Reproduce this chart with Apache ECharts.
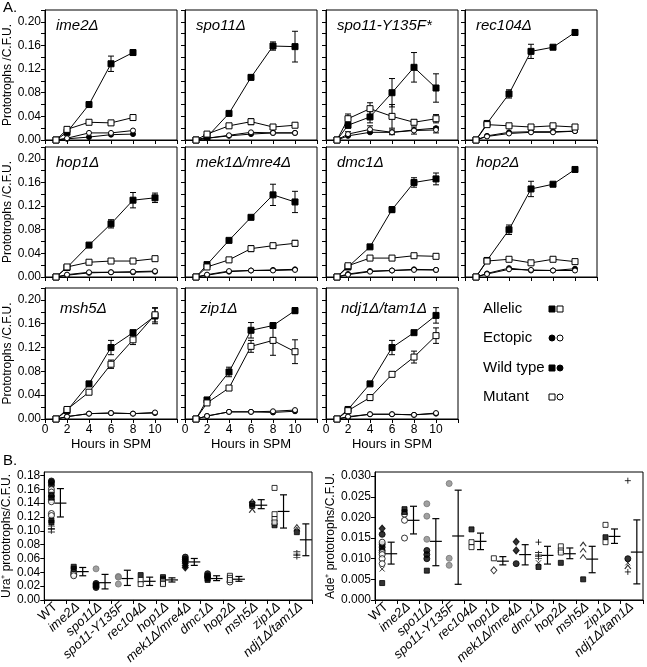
<!DOCTYPE html>
<html><head><meta charset="utf-8">
<script src="https://cdn.jsdelivr.net/npm/echarts@6/dist/echarts.min.js"></script>
<style>html,body{margin:0;padding:0;background:#fff}#c{width:647px;height:667px}</style>
</head><body><div id="c"></div>
<script>
// ---------- Panel A data ----------
const hours = [1, 2, 4, 6, 8, 10];
const panelNames = ['ime2Δ', 'spo11Δ', 'spo11-Y135F*', 'rec104Δ', 'hop1Δ', 'mek1Δ/mre4Δ', 'dmc1Δ', 'hop2Δ', 'msh5Δ', 'zip1Δ', 'ndj1Δ/tam1Δ'];
const allelicWT = [
  [0, 0.013, 0.060, 0.129, 0.148, null],
  [0, 0.005, 0.045, 0.106, 0.159, 0.158],
  [0, 0.025, 0.039, 0.080, 0.123, 0.088],
  [0, 0.028, 0.078, 0.150, 0.157, 0.182],
  [0, 0.016, 0.054, 0.090, 0.130, 0.134],
  [0, 0.021, 0.062, 0.101, 0.139, 0.127],
  [0, 0.017, 0.051, 0.114, 0.160, 0.166],
  [0, 0.028, 0.080, 0.149, 0.157, 0.182],
  [0, 0.014, 0.059, 0.120, 0.145, 0.173],
  [0, 0.032, 0.079, 0.149, 0.157, 0.182],
  [0, 0.016, 0.059, 0.120, 0.145, 0.174]
];
const allelicWTErr = [
  [0, 0.002, 0.002, 0.013, 0.005, null],
  [0, 0.000, 0.002, 0.004, 0.007, 0.026],
  [0, 0.005, 0.010, 0.024, 0.025, 0.024],
  [0, 0.002, 0.007, 0.012, 0.003, 0.005],
  [0, 0.002, 0.003, 0.007, 0.013, 0.008],
  [0, 0.002, 0.003, 0.003, 0.018, 0.018],
  [0, 0.002, 0.002, 0.005, 0.008, 0.010],
  [0, 0.002, 0.008, 0.013, 0.003, 0.004],
  [0, 0.002, 0.002, 0.012, 0.004, 0.013],
  [0, 0.002, 0.008, 0.013, 0.003, 0.005],
  [0, 0.002, 0.002, 0.012, 0.003, 0.013]
];
const allelicMut = [
  [0, 0.018, 0.030, 0.029, 0.038, null],
  [0, 0.010, 0.024, 0.031, 0.022, 0.025],
  [0, 0.036, 0.053, 0.040, 0.030, 0.036],
  [0, 0.026, 0.024, 0.022, 0.024, 0.022],
  [0, 0.017, 0.025, 0.027, 0.027, 0.031],
  [0, 0.017, 0.029, 0.048, 0.053, 0.057],
  [0, 0.019, 0.032, 0.032, 0.036, 0.035],
  [0, 0.027, 0.030, 0.024, 0.030, 0.026],
  [0, 0.016, 0.045, 0.092, 0.133, 0.175],
  [0, 0.027, 0.052, 0.122, 0.132, 0.113],
  [0, 0.014, 0.036, 0.075, 0.104, 0.140]
];
const allelicMutErr = [
  [0, 0.002, 0.002, 0.002, 0.004, null],
  [0, 0.001, 0.002, 0.005, 0.002, 0.002],
  [0, 0.008, 0.010, 0.020, 0.004, 0.007],
  [0, 0.002, 0.002, 0.002, 0.002, 0.002],
  [0, 0.002, 0.002, 0.002, 0.002, 0.002],
  [0, 0.002, 0.002, 0.005, 0.004, 0.005],
  [0, 0.002, 0.002, 0.002, 0.002, 0.002],
  [0, 0.002, 0.002, 0.002, 0.002, 0.002],
  [0, 0.002, 0.002, 0.007, 0.008, 0.012],
  [0, 0.002, 0.002, 0.010, 0.025, 0.020],
  [0, 0.002, 0.005, 0.003, 0.010, 0.013]
];
const ectopicWT = [
  [0, 0.002, 0.005, 0.009, 0.010, null],
  [0, 0.003, 0.007, 0.010, 0.012, 0.012],
  [0, 0.007, 0.013, 0.013, 0.017, 0.020],
  [0, 0.007, 0.013, 0.014, 0.014, 0.015],
  [0, 0.003, 0.007, 0.008, 0.008, 0.009],
  [0, 0.003, 0.009, 0.011, 0.012, 0.013],
  [0, 0.005, 0.010, 0.011, 0.013, 0.012],
  [0, 0.006, 0.015, 0.011, 0.011, 0.014],
  [0, 0.004, 0.009, 0.010, 0.009, 0.010],
  [0, 0.005, 0.012, 0.012, 0.011, 0.013],
  [0, 0.003, 0.008, 0.008, 0.007, 0.009]
];
const ectopicMut = [
  [0, 0.003, 0.012, 0.012, 0.016, null],
  [0, 0.003, 0.008, 0.013, 0.012, 0.012],
  [0, 0.010, 0.018, 0.013, 0.016, 0.017],
  [0, 0.006, 0.011, 0.013, 0.013, 0.015],
  [0, 0.004, 0.008, 0.008, 0.009, 0.010],
  [0, 0.004, 0.010, 0.011, 0.011, 0.012],
  [0, 0.004, 0.009, 0.011, 0.012, 0.012],
  [0, 0.005, 0.013, 0.012, 0.011, 0.011],
  [0, 0.004, 0.009, 0.010, 0.009, 0.011],
  [0, 0.005, 0.012, 0.012, 0.013, 0.015],
  [0, 0.004, 0.008, 0.008, 0.007, 0.010]
];
const ectopicErr = [
  [0,0,0,0,0,null],[0,0,0,0,0,0],[0, 0.004, 0.006, 0.004, 0.006, 0.005],[0,0,0,0,0,0],
  [0,0,0,0,0,0],[0,0,0,0,0,0],[0,0,0,0,0,0],[0,0,0,0,0,0],[0,0,0,0,0,0],[0,0,0,0,0,0],[0,0,0,0,0,0]
];
const yTicksA = [0, 0.04, 0.08, 0.12, 0.16, 0.20];
const xTicksA = [0, 2, 4, 6, 8, 10];

// ---------- Panel B data ----------
const cats = ['WT', 'ime2Δ', 'spo11Δ', 'spo11-Y135F', 'rec104Δ', 'hop1Δ', 'mek1Δ/mre4Δ', 'dmc1Δ', 'hop2Δ', 'msh5Δ', 'zip1Δ', 'ndj1Δ/tam1Δ'];
// Ura+ (left)
const uraFilledCircle = [[0,0.172],[0,0.170],[0,0.166],[2,0.024],[2,0.022],[2,0.020],[2,0.018],[6,0.062],[6,0.059],[6,0.056],[7,0.038],[7,0.035],[7,0.033]];
const uraOpenCircle = [[0,0.160],[0,0.156],[0,0.150],[0,0.145],[0,0.142],[0,0.125],[0,0.122],[1,0.040],[1,0.037],[1,0.035],[8,0.026]];
const uraFilledSquare = [[0,0.152],[0,0.148],[0,0.115],[0,0.112],[1,0.048],[1,0.045],[4,0.036],[5,0.033],[5,0.030],[7,0.031],[7,0.029],[9,0.139],[9,0.136],[10,0.108],[11,0.098]];
const uraOpenSquare = [[4,0.029],[4,0.023],[5,0.027],[5,0.025],[5,0.023],[8,0.035],[8,0.032],[8,0.029],[10,0.162],[10,0.124],[10,0.117],[10,0.112]];
const uraGrey = [[2,0.045],[3,0.034],[3,0.033],[3,0.023]];
const uraDiamond = [[6,0.053],[6,0.050],[6,0.047]];
const uraCaret = [[9,0.143],[9,0.129],[11,0.106],[11,0.102]];
const uraDagger = [[0,0.105],[0,0.100],[11,0.068],[11,0.063]];
const uraMean = [0.140, 0.041, 0.025, 0.031, 0.027, 0.029, 0.055, 0.031, 0.030, 0.137, 0.128, 0.087];
const uraLow  = [0.120, 0.035, 0.016, 0.021, 0.021, 0.026, 0.050, 0.028, 0.027, 0.132, 0.104, 0.064];
const uraHigh = [0.161, 0.047, 0.037, 0.043, 0.033, 0.032, 0.060, 0.035, 0.034, 0.145, 0.152, 0.110];
// Ade+ (right)
const adeFilledCircle = [[0,0.0159],[0,0.0135],[0,0.0128],[0,0.0120],[2,0.0120],[2,0.0110],[2,0.0100],[6,0.0088],[11,0.0100]];
const adeOpenCircle = [[0,0.0140],[0,0.0115],[0,0.0110],[0,0.0100],[0,0.0088],[1,0.0208],[1,0.0193],[1,0.0150]];
const adeFilledSquare = [[0,0.0041],[1,0.0220],[1,0.0213],[2,0.0071],[4,0.0171],[7,0.0080],[8,0.0090],[9,0.0050],[10,0.0152]];
const adeOpenSquare = [[4,0.0140],[4,0.0128],[5,0.0101],[8,0.0130],[8,0.0120],[8,0.0115],[10,0.0182],[10,0.0140]];
const adeGrey = [[2,0.0233],[2,0.0203],[2,0.0147],[3,0.0282],[3,0.0101],[3,0.0084]];
const adeDiamond = [[0,0.0173],[6,0.0141],[6,0.0120]];
const adeOpenDiamond = [[5,0.0072]];
const adePlus = [[7,0.0140],[11,0.0289],[11,0.0068]];
const adeDagger = [[7,0.0112],[7,0.0103]];
const adeCross = [[0,0.0075],[7,0.0090],[11,0.0090]];
const adeCaret = [[9,0.0135],[9,0.0120],[9,0.0105],[11,0.0080]];
const adeMean = [0.0112, 0.0193, 0.0142, 0.0155, 0.0142, 0.0094, 0.0110, 0.0108, 0.0112, 0.0099, 0.0154, 0.0116];
const adeLow  = [0.0087, 0.0160, 0.0083, 0.0038, 0.0122, 0.0085, 0.0085, 0.0087, 0.0100, 0.0066, 0.0137, 0.0039];
const adeHigh = [0.0140, 0.0227, 0.0197, 0.0266, 0.0162, 0.0105, 0.0134, 0.0130, 0.0126, 0.0130, 0.0172, 0.0194];

// ---------- layout / styles ----------
const FONT = '"Liberation Sans", Arial, sans-serif';
const rowTop = [10, 147, 288];
const rowH = [130, 130, 131];
const colLeft = [45, 185, 326, 465];
const panelW = 132;

const grids = [], xAxes = [], yAxes = [], series = [], titles = [];
const axisLineStyle = { show: true, lineStyle: { color: '#000', width: 1 } };

function errRender(params, api) {
  const x = api.value(0), lo = api.value(1), hi = api.value(2);
  const p1 = api.coord([x, lo]), p2 = api.coord([x, hi]);
  const w = 3, st = { stroke: '#000', lineWidth: 1 };
  return { type: 'group', children: [
    { type: 'line', shape: { x1: p1[0], y1: p1[1], x2: p2[0], y2: p2[1] }, style: st },
    { type: 'line', shape: { x1: p1[0] - w, y1: p1[1], x2: p1[0] + w, y2: p1[1] }, style: st },
    { type: 'line', shape: { x1: p2[0] - w, y1: p2[1], x2: p2[0] + w, y2: p2[1] }, style: st }
  ]};
}
function meanRender(params, api) {
  const c = api.value(0), m = api.value(1), lo = api.value(2), hi = api.value(3);
  const off = 5;
  const pm = api.coord([c, m]), pl = api.coord([c, lo]), ph = api.coord([c, hi]);
  const x = pm[0] + off, st = { stroke: '#000', lineWidth: 1.2 };
  return { type: 'group', children: [
    { type: 'line', shape: { x1: x, y1: pl[1], x2: x, y2: ph[1] }, style: st },
    { type: 'line', shape: { x1: x - 3.5, y1: pl[1], x2: x + 3.5, y2: pl[1] }, style: st },
    { type: 'line', shape: { x1: x - 3.5, y1: ph[1], x2: x + 3.5, y2: ph[1] }, style: st },
    { type: 'line', shape: { x1: x - 6, y1: pm[1], x2: x + 6, y2: pm[1] }, style: st }
  ]};
}

panelNames.forEach((name, i) => {
  const row = Math.floor(i / 4), col = i % 4;
  grids.push({ left: colLeft[col], top: rowTop[row], width: panelW, height: rowH[row], show: true, borderColor: '#000', borderWidth: 1, backgroundColor: 'transparent' });
  const bottomRow = row === 2;
  xAxes.push({
    type: 'value', gridIndex: i, min: 0, max: 12, interval: 2,
    axisLine: axisLineStyle, splitLine: { show: false },
    axisTick: { show: true, inside: false, length: 4, lineStyle: { color: '#000' } },
    axisLabel: { show: bottomRow, color: '#000', fontFamily: FONT, fontSize: 12, margin: 5,
      formatter: v => xTicksA.includes(v) ? String(v) : '' },
    name: bottomRow ? 'Hours in SPM' : '', nameLocation: 'middle', nameGap: 19,
    nameTextStyle: { color: '#000', fontFamily: FONT, fontSize: 13 }
  });
  yAxes.push({
    type: 'value', gridIndex: i, min: 0, max: 0.22, interval: 0.02,
    axisLine: axisLineStyle, splitLine: { show: false },
    axisTick: { show: true, inside: false, length: 4, lineStyle: { color: '#000' } },
    axisLabel: { show: col === 0, color: '#000', fontFamily: FONT, fontSize: 12, margin: 4,
      formatter: v => yTicksA.some(t => Math.abs(t - v) < 1e-6) ? v.toFixed(2) : '' },
    name: col === 0 ? 'Prototrophs /C.F.U.' : '', nameLocation: 'middle', nameGap: 28, nameRotate: 90,
    nameTextStyle: { color: '#000', fontFamily: FONT, fontSize: 12 }
  });
  titles.push({ text: name, left: colLeft[col] + (row === 2 ? 10 : 6), top: rowTop[row] + (row === 2 ? 8 : 3),
    textStyle: { fontFamily: FONT, fontSize: 15, fontStyle: 'italic', fontWeight: 'normal', color: '#000' } });

  const pts = arr => hours.map((h, k) => [h, arr[k]]).filter(p => p[1] !== null);
  const errs = (arr, err) => hours.map((h, k) => [h, arr[k], err[k]])
    .filter(p => p[1] !== null && p[2] > 0).map(p => [p[0], p[1] - p[2], p[1] + p[2]]);

  [[allelicWT[i], allelicWTErr[i]], [allelicMut[i], allelicMutErr[i]], [ectopicMut[i], ectopicErr[i]]].forEach(([a, e]) => {
    series.push({ type: 'custom', xAxisIndex: i, yAxisIndex: i, renderItem: errRender, data: errs(a, e), z: 1, silent: true });
  });
  const lineDefs = [
    [ectopicWT[i], 'circle', 5, '#000'],
    [ectopicMut[i], 'circle', 5, '#fff'],
    [allelicWT[i], 'rect', 6, '#000'],
    [allelicMut[i], 'rect', 6, '#fff']
  ];
  lineDefs.forEach(([a, sym, sz, fill]) => {
    series.push({ type: 'line', xAxisIndex: i, yAxisIndex: i, data: pts(a), symbol: sym, symbolSize: sz,
      showAllSymbol: true, lineStyle: { color: '#000', width: 1 },
      itemStyle: { color: fill, borderColor: '#000', borderWidth: 1 }, z: 3, silent: true });
  });
});

// ---------- Panel B ----------
const bGrids = [
  { left: 43, top: 472, width: 269, height: 137 },
  { left: 375, top: 472, width: 268, height: 137 }
];
bGrids.forEach(g => grids.push(Object.assign({ show: true, borderColor: '#000', borderWidth: 1, backgroundColor: 'transparent' }, g)));
const gi0 = panelNames.length, gi1 = gi0 + 1;
[gi0, gi1].forEach(gi => {
  xAxes.push({
    type: 'category', gridIndex: gi, data: cats, boundaryGap: true,
    axisLine: axisLineStyle, splitLine: { show: false },
    axisTick: { show: true, inside: false, length: 4, alignWithLabel: false, lineStyle: { color: '#000' } },
    axisLabel: { interval: 0, rotate: 42, margin: 5, color: '#000',
      formatter: v => v === 'WT' ? '{n|' + v + '}' : '{i|' + v + '}',
      rich: { n: { fontFamily: FONT, fontSize: 13, color: '#000' }, i: { fontFamily: FONT, fontSize: 13, fontStyle: 'italic', color: '#000' } } }
  });
});
yAxes.push({
  type: 'value', gridIndex: gi0, min: 0, max: 0.185, interval: 0.02,
  axisLine: axisLineStyle, splitLine: { show: false },
  axisTick: { show: true, inside: false, length: 4, lineStyle: { color: '#000' } },
  axisLabel: { color: '#000', fontFamily: FONT, fontSize: 12, margin: 4, showMaxLabel: false, formatter: v => v.toFixed(2) },
  name: 'Ura⁺ prototrophs/C.F.U.', nameLocation: 'middle', nameGap: 28, nameRotate: 90,
  nameTextStyle: { color: '#000', fontFamily: FONT, fontSize: 12 }
});
yAxes.push({
  type: 'value', gridIndex: gi1, min: 0, max: 0.031, interval: 0.005,
  axisLine: axisLineStyle, splitLine: { show: false },
  axisTick: { show: true, inside: false, length: 4, lineStyle: { color: '#000' } },
  axisLabel: { color: '#000', fontFamily: FONT, fontSize: 12, margin: 4, showMaxLabel: false, formatter: v => v.toFixed(3) },
  name: 'Ade⁺ prototrophs/C.F.U.', nameLocation: 'middle', nameGap: 34, nameRotate: 90,
  nameTextStyle: { color: '#000', fontFamily: FONT, fontSize: 12 }
});

const SYM = {
  caret: 'path://M0,10L5,0L10,10',
  plus: 'path://M5,0L5,10M0,5L10,5',
  cross: 'path://M0,0L10,10M10,0L0,10',
  dagger: 'path://M5,0L5,10M1,3L9,3M1,7L9,7'
};
function scat(gi, data, symbol, size, fill, stroke) {
  series.push({ type: 'scatter', xAxisIndex: gi, yAxisIndex: gi, data, symbol, symbolSize: size, symbolOffset: [-4, 0],
    itemStyle: { color: fill, borderColor: stroke, borderWidth: 1 }, z: 3, silent: true });
}
function bPanel(gi, d) {
  scat(gi, d.fc, 'circle', 6, '#000', '#000');
  scat(gi, d.oc, 'circle', 6, '#fff', '#000');
  scat(gi, d.fs, 'rect', 5, '#000', '#000');
  scat(gi, d.os, 'rect', 5, '#fff', '#000');
  scat(gi, d.gr, 'circle', 6, '#8a8a8a', '#777');
  scat(gi, d.di, 'diamond', [6, 7], '#000', '#000');
  if (d.od) scat(gi, d.od, 'diamond', [6, 7], '#fff', '#000');
  scat(gi, d.ca, SYM.caret, [6, 4], 'rgba(0,0,0,0)', '#000');
  scat(gi, d.da, SYM.dagger, [7, 6], 'rgba(0,0,0,0)', '#000');
  if (d.pl) scat(gi, d.pl, SYM.plus, [6, 6], 'rgba(0,0,0,0)', '#000');
  if (d.cr) scat(gi, d.cr, SYM.cross, [5, 5], 'rgba(0,0,0,0)', '#000');
  series.push({ type: 'custom', xAxisIndex: gi, yAxisIndex: gi, renderItem: meanRender, silent: true, z: 2,
    data: d.mean.map((m, k) => [k, m, d.low[k], d.high[k]]) });
}
bPanel(gi0, { fc: uraFilledCircle, oc: uraOpenCircle, fs: uraFilledSquare, os: uraOpenSquare, gr: uraGrey, di: uraDiamond,
  ca: uraCaret, da: uraDagger, mean: uraMean, low: uraLow, high: uraHigh });
bPanel(gi1, { fc: adeFilledCircle, oc: adeOpenCircle, fs: adeFilledSquare, os: adeOpenSquare, gr: adeGrey, di: adeDiamond,
  od: adeOpenDiamond, ca: adeCaret, da: adeDagger, pl: adePlus, cr: adeCross, mean: adeMean, low: adeLow, high: adeHigh });

// ---------- legend & labels ----------
const legendItems = [
  ['Allelic', ['fs', 'os'], 309],
  ['Ectopic', ['fc', 'oc'], 338],
  ['Wild type', ['fs', 'fc'], 368],
  ['Mutant', ['os', 'oc'], 397]
];
const graphics = [
  { type: 'text', style: { text: 'A.', x: 3, y: 8, font: '15px ' + FONT, fill: '#000', verticalAlign: 'middle' } },
  { type: 'text', style: { text: 'B.', x: 3, y: 461, font: '15px ' + FONT, fill: '#000', verticalAlign: 'middle' } }
];
legendItems.forEach(([label, syms, y]) => {
  graphics.push({ type: 'text', style: { text: label, x: 483, y, font: '15px ' + FONT, fill: '#000', verticalAlign: 'middle' } });
  syms.forEach((s, k) => {
    const cx = 552 + k * 8;
    const filled = s[0] === 'f';
    const style = { fill: filled ? '#000' : '#fff', stroke: '#000', lineWidth: 1 };
    if (s[1] === 's') graphics.push({ type: 'rect', shape: { x: cx - 3, y: y - 3, width: 6, height: 6 }, style });
    else graphics.push({ type: 'circle', shape: { cx, cy: y, r: 3 }, style });
  });
});

const chart = echarts.init(document.getElementById('c'), null, { renderer: 'canvas' });
chart.setOption({
  animation: false,
  backgroundColor: '#fff',
  title: titles,
  grid: grids,
  xAxis: xAxes,
  yAxis: yAxes,
  series,
  graphic: graphics
});
</script></body></html>
